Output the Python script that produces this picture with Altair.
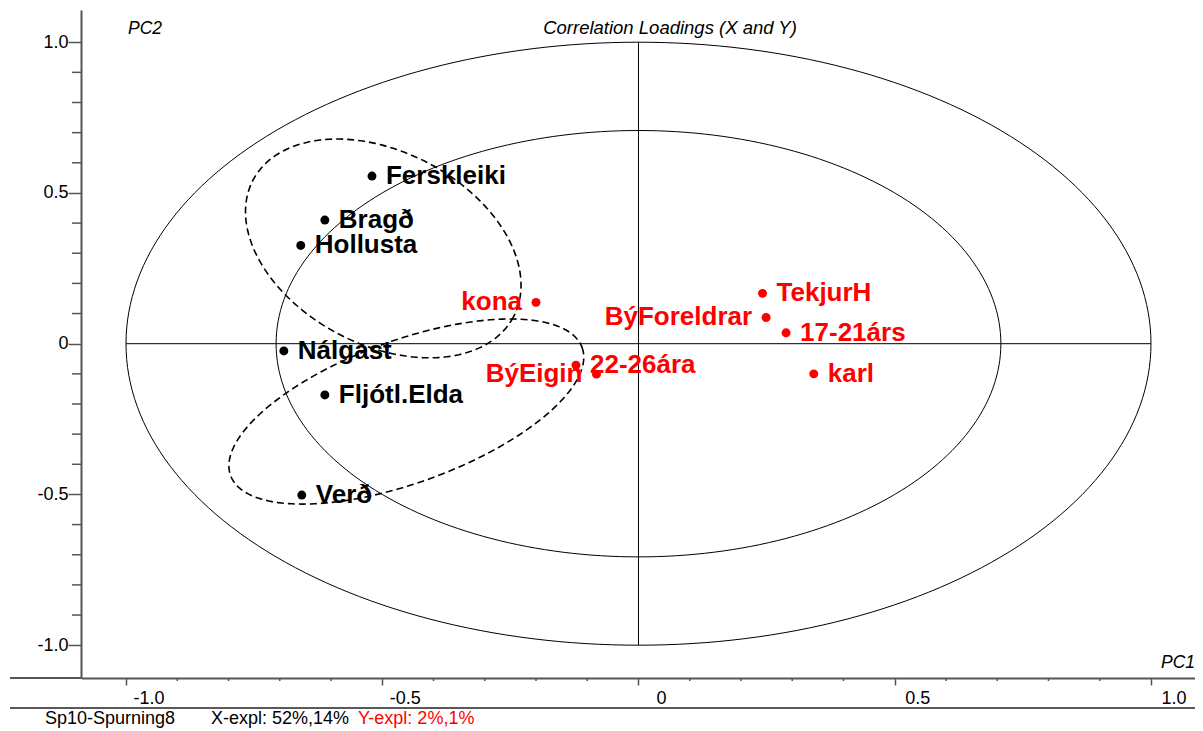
import numpy as np
import pandas as pd
import altair as alt

# ---------------- data ----------------
NAMES = ["Ferskleiki", "Bragð", "Hollusta", "Nálgast", "Fljótl.Elda", "Verð",
         "kona", "22-26ára", "BýEigin", "BýForeldrar", "TekjurH", "17-21árs", "karl"]
PC1 = [-0.520, -0.612, -0.659, -0.692, -0.612, -0.657,
       -0.200, -0.122, -0.082, 0.249, 0.242, 0.288, 0.342]
PC2 = [0.556, 0.410, 0.326, -0.024, -0.170, -0.502,
       0.137, -0.071, -0.101, 0.087, 0.167, 0.036, -0.100]
BLOCK = ["X", "X", "X", "X", "X", "X", "Y", "Y", "Y", "Y", "Y", "Y", "Y"]
SIDE = ["right", "right", "right", "right", "right", "right",
        "left", "right", "left", "left", "right", "right", "right"]

MAJOR_TICKS = [-1.0, -0.5, 0.0, 0.5, 1.0]
MINOR_TICKS = [-0.9, -0.8, -0.7, -0.6, -0.4, -0.3, -0.2, -0.1,
               0.1, 0.2, 0.3, 0.4, 0.6, 0.7, 0.8, 0.9]

CIRCLE_RADII = [1.0, 0.7071]          # 100% and 50% explained variance

# dashed group ellipses: centre and the two half-axis vectors (data units)
ELL_CX = [-0.498, -0.453]
ELL_CY = [0.316, -0.225]
ELL_UX = [0.254, 0.343]
ELL_UY = [-0.227, 0.212]
ELL_VX = [-0.088, 0.047]
ELL_VY = [-0.283, -0.222]

TITLE = "Correlation Loadings (X and Y)"
XNAME = "PC1"
YNAME = "PC2"
FOOT = ["Sp10-Spurning8", "X-expl: 52%,14%", "Y-expl: 2%,1%"]

# ---------------- tables ----------------
pts = pd.DataFrame({"name": NAMES, "pc1": PC1, "pc2": PC2, "block": BLOCK, "side": SIDE})

t = np.linspace(0, 2 * np.pi, 241)
rows = []
for g, r in enumerate(CIRCLE_RADII):
    for o, tt in enumerate(t):
        rows.append({"g": g, "o": o, "x": r * np.cos(tt), "y": r * np.sin(tt)})
circ = pd.DataFrame(rows)

rows = []
for g in range(len(ELL_CX)):
    for o, tt in enumerate(t):
        rows.append({"g": g, "o": o,
                     "x": ELL_CX[g] + ELL_UX[g] * np.cos(tt) + ELL_VX[g] * np.sin(tt),
                     "y": ELL_CY[g] + ELL_UY[g] * np.cos(tt) + ELL_VY[g] * np.sin(tt)})
ell = pd.DataFrame(rows)

cross = pd.DataFrame({"x": [-1.0, 0.0], "x2": [1.0, 0.0], "y": [0.0, -1.0], "y2": [0.0, 1.0]})
minor = pd.DataFrame({"v": MINOR_TICKS})
major = pd.DataFrame({"v": MAJOR_TICKS})
one = pd.DataFrame({"k": [0]})

# ---------------- layout ----------------
W, H = 1114, 668
FONT = "Liberation Sans"
AXC = "#555555"

xs = alt.Scale(domain=[-1.0878, 1.0859], nice=False, zero=False)
ys = alt.Scale(domain=[-1.1088, 1.1068], nice=False, zero=False)

LBL = "datum.value == 0 ? '0' : (datum.value < 0 ? '-' : '') + format(abs(datum.value), '.1f')"
LBLV = "datum.v == 0 ? '0' : (datum.v < 0 ? '-' : '') + format(abs(datum.v), '.1f')"

x_axis = alt.Axis(values=MAJOR_TICKS, labels=False, title=None, grid=False,
                  domainColor=AXC, domainWidth=2, tickColor=AXC, tickWidth=1.5,
                  tickSize=7)
y_axis = alt.Axis(values=MAJOR_TICKS, labelExpr=LBL, title=None, grid=False,
                  domainColor=AXC, domainWidth=2, tickColor=AXC, tickWidth=1.5,
                  tickSize=13, labelFont=FONT, labelFontSize=18, labelColor="black",
                  labelPadding=0)

X = lambda f: alt.X(f, type="quantitative", scale=xs, axis=x_axis)
Y = lambda f: alt.Y(f, type="quantitative", scale=ys, axis=y_axis)

circles = alt.Chart(circ).mark_line(stroke="black", strokeWidth=1).encode(
    x=X("x"), y=Y("y"), detail="g:N", order="o:Q")

ellipses = alt.Chart(ell).mark_line(stroke="black", strokeWidth=1.6, strokeDash=[7, 4]).encode(
    x=X("x"), y=Y("y"), detail="g:N", order="o:Q")

crosses = alt.Chart(cross).mark_rule(color="black", strokeWidth=1).encode(
    x=X("x"), x2="x2", y=Y("y"), y2="y2")

xminor = alt.Chart(minor).mark_rule(color=AXC, strokeWidth=1.5).encode(
    x=X("v"), y=alt.value(H), y2=alt.value(H + 3))
yminor = alt.Chart(minor).mark_rule(color=AXC, strokeWidth=1.5).encode(
    y=Y("v"), x=alt.value(-9), x2=alt.value(0))
xlabels = alt.Chart(major).transform_calculate(lab=LBLV).mark_text(
    align="center", baseline="alphabetic", dx=23, font=FONT, fontSize=18, color="black"
).encode(x=X("v"), y=alt.value(H + 26), text="lab:N")

color = alt.Color("block:N", scale=alt.Scale(domain=["X", "Y"], range=["black", "#ff0000"]), legend=None)

points = alt.Chart(pts).mark_circle(size=80, opacity=1).encode(
    x=X("pc1"), y=Y("pc2"), color=color)

lab_r = alt.Chart(pts).transform_filter("datum.side == 'right'").mark_text(
    align="left", baseline="alphabetic", dx=14, dy=8, font=FONT, fontSize=26, fontWeight="bold"
).encode(x=X("pc1"), y=Y("pc2"), text="name:N", color=color)
lab_l = alt.Chart(pts).transform_filter("datum.side == 'left'").mark_text(
    align="right", baseline="alphabetic", dx=-14, dy=8, font=FONT, fontSize=26, fontWeight="bold"
).encode(x=X("pc1"), y=Y("pc2"), text="name:N", color=color)

axis_ext = alt.Chart(one).mark_rule(color=AXC, strokeWidth=2).encode(
    x=alt.value(-71), x2=alt.value(0), y=alt.value(H))
bottom_line = alt.Chart(one).mark_rule(color="#222222", strokeWidth=1.5).encode(
    x=alt.value(-71), x2=alt.value(W), y=alt.value(H + 30))

def txt(s, x, y, align="left", size=18, style="normal", col="black"):
    return alt.Chart(one).mark_text(text=s, align=align, baseline="alphabetic", font=FONT,
                                    fontSize=size, fontStyle=style, color=col).encode(
        x=alt.value(x), y=alt.value(y))

texts = [
    txt(TITLE, 589, 24, align="center", size=18.5, style="italic"),
    txt(YNAME, 47, 24, size=17.5, style="italic"),
    txt(XNAME, W, 658, align="right", size=17.5, style="italic"),
    txt(FOOT[0], -36, 714),
    txt(FOOT[1], 130, 714),
    txt(FOOT[2], 277, 714, col="#ff0000"),
]

chart = alt.layer(circles, crosses, ellipses, xminor, yminor, xlabels, axis_ext, bottom_line,
                  points, lab_r, lab_l, *texts).properties(
    width=W, height=H,
    padding={"left": 73, "top": 2, "right": 0, "bottom": 51},
    autosize=alt.AutoSizeParams(type="none"),
    background="white",
).configure_view(stroke=None)

chart.save("out.html", embed_options={"renderer": "svg", "actions": False})
